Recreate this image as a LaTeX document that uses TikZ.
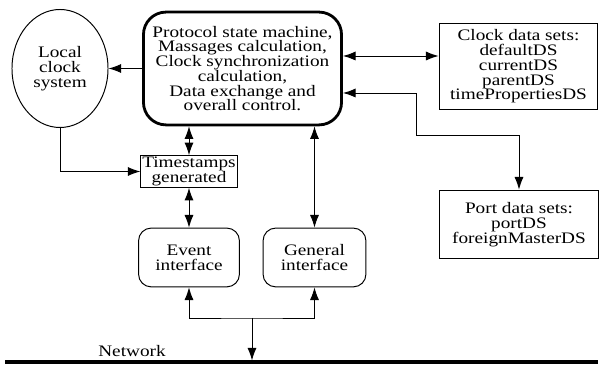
\documentclass[tikz,border=0pt]{standalone}
\usepackage{fontspec}
\setmainfont{Liberation Serif}[FakeStretch=1.2]
\usepackage{tikz}
\usetikzlibrary{shapes.geometric}
\usetikzlibrary{arrows.meta}
\usetikzlibrary{calc}
\tikzset{every picture/.style={line width=0.7pt},
  every node/.style={font=\fontsize{11.4}{10.5}\selectfont,align=center},
  ctrlbox/.style={draw,line width=2pt,rounded corners=16pt,minimum width=4.95cm,minimum height=2.82cm},
  dsbox/.style={draw,minimum width=3.97cm},
  ifbox/.style={draw,rounded corners=9pt,minimum height=1.47cm},
  stampbox/.style={draw,minimum width=2.3cm,minimum height=0.72cm,inner sep=1pt},
  clockell/.style={draw,ellipse,minimum width=2.4cm,minimum height=2.95cm,inner sep=0pt},
  arr/.style={-{Latex[length=9pt,width=6.5pt]}},
  darr/.style={{Latex[length=9pt,width=6.5pt]}-{Latex[length=9pt,width=6.5pt]}}}

\begin{document}
\begin{tikzpicture}[x=0.025cm,y=-0.025cm]
\useasboundingbox (0,0) rectangle (601,365);
% boxes
\node[ctrlbox] (ctrl) at (242.5,68.5) {Protocol state machine,\\Massages calculation,\\Clock synchronization\\calculation,\\Data exchange and\\overall control.};
\node[clockell] (lcs) at (60,68.5) {Local\\clock\\system};
\node[dsbox,minimum height=2.17cm] (clockds) at (518.5,66.5) {Clock data sets:\\defaultDS\\currentDS\\parentDS\\timePropertiesDS};
\node[dsbox,minimum height=1.72cm] (portds) at (519,224.5) {Port data sets:\\portDS\\foreignMasterDS};
\node[stampbox] (stamps) at (189,171.5) {Timestamps\\generated};
\node[ifbox,minimum width=2.52cm] (event) at (189,257.5) {Event\\interface};
\node[ifbox,minimum width=2.57cm] (general) at (314.5,257.5) {General\\interface};
% network
\coordinate (netl) at (5,362);
\coordinate (netr) at (598,362);
\draw[line width=3pt] (netl) -- (netr);
\node (net) at (132,351) {Network};
% connectors
\draw[arr] (ctrl.west) -- (lcs.east);
\coordinate (c1) at ($(ctrl.east)+(0,-12.5)$);
\draw[darr] (c1) -- (c1 -| clockds.west);
\coordinate (c2) at ($(ctrl.east)+(0,24.5)$);
\draw[darr] (c2) -| (416,135) -| (portds.north);
\draw[darr] (stamps.north |- ctrl.south) -- (stamps.north);
\draw[darr] (general.north |- ctrl.south) -- (general.north);
\draw[arr] (lcs.south) |- (stamps.west);
\draw[darr] (stamps.south) -- (event.north);
\coordinate (bus) at (252,318);
\draw[darr] (event.south) |- (bus) -| (general.south);
\draw[arr] (bus) -- ($(bus |- netl)+(0,-1.5)$);
\end{tikzpicture}
\end{document}
